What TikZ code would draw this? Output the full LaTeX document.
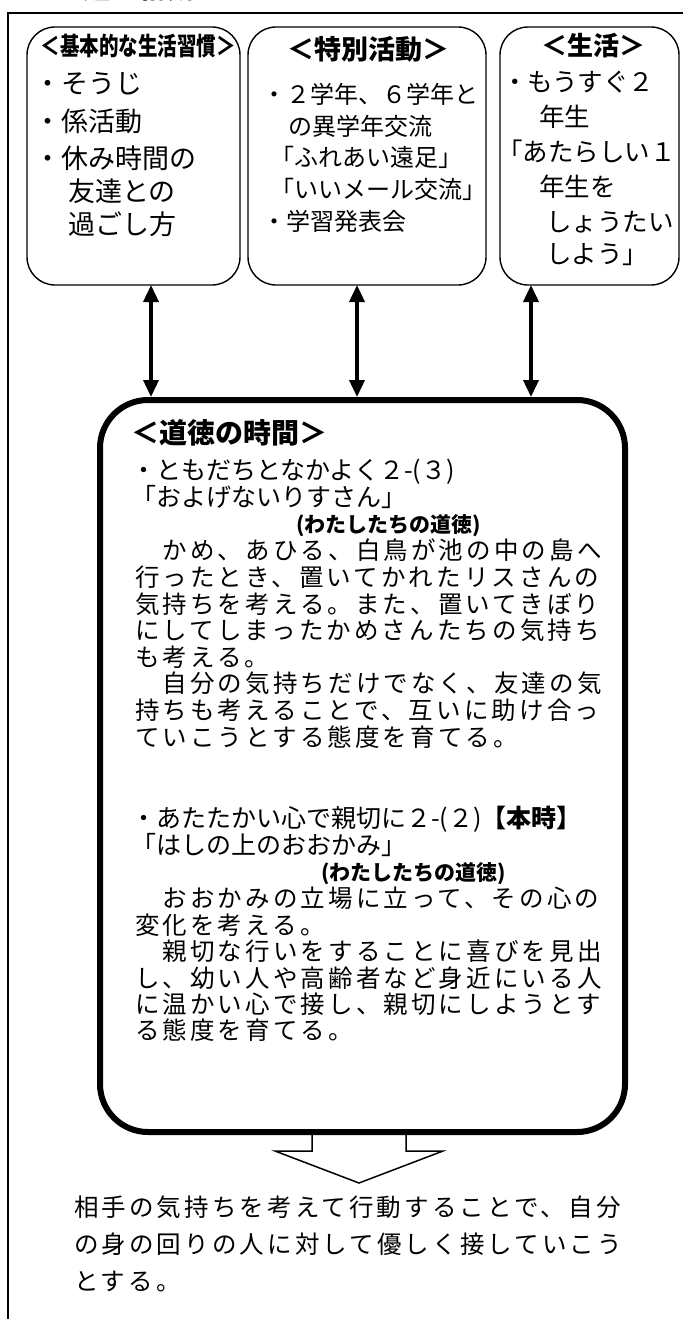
\documentclass[tikz,border=0pt]{standalone}
\usepackage{fontspec}
\usepackage{graphicx}
\setmainfont{Noto Sans CJK JP}
\newfontfamily\gridfont[LetterSpace=12.8]{Noto Sans CJK JP}
\usetikzlibrary{arrows.meta,calc}
\tikzset{
  every node/.style={inner sep=0pt, outer sep=0pt},
  ln/.style={anchor=west, text height=0.88em, text depth=0.12em},
  sbox/.style={draw, line width=1.4pt, rounded corners=28pt, rectangle},
  mainbox/.style={draw, line width=6pt, rounded corners=48pt, rectangle},
  dbl/.style={line width=3.6pt, {Triangle[width=15pt,length=17pt]}-{Triangle[width=15pt,length=17pt]}},
  hollow/.style={line width=1.5pt, line join=miter},
  frame/.style={line width=2pt},
  b1t/.style={ln, font=\fontsize{27}{30}\selectfont},
  b2t/.style={ln, font=\fontsize{24}{28}\selectfont},
  b3t/.style={ln, font=\fontsize{25.5}{28}\selectfont},
  mhd/.style={ln, font=\fontsize{25}{28}\selectfont},
  msrc/.style={ln, font=\bfseries\fontsize{21}{24}\selectfont},
  para/.style={ln, font=\gridfont\fontsize{24.5}{28}\selectfont},
  boxhead/.style={anchor=center, text height=0.88em, text depth=0.12em, font=\bfseries\fontsize{27}{30}\selectfont},
}
\begin{document}
\begin{tikzpicture}[x=1pt, y=-1pt]
\useasboundingbox (0,0) rectangle (683,1319);
% title (only its lower edge shows)
\node[ln, font=\bfseries\fontsize{28}{30}\selectfont] (title) at (55,-5) {主題の構成};
% outer frame
\draw[frame] (8,1319) -- (8,13) -- (683,13);

% top boxes
\node[sbox, minimum width=213pt, minimum height=258pt] (b1) at (133.5,156) {};
\node[sbox, minimum width=238pt, minimum height=258pt] (b2) at (367,156) {};
\node[sbox, minimum width=179pt, minimum height=258pt] (b3) at (589.5,156) {};

% box 1
\node[boxhead, font=\bfseries\fontsize{25}{28}\selectfont] (h1) at (138,52) {\scalebox{0.78}[1]{＜基本的な生活習慣＞}};
\node[b1t] (i11) at (34,90) {・そうじ};
\node[b1t] (i12) at (34,128) {・係活動};
\node[b1t] (i13) at (34,165) {・休み時間の};
\node[b1t] (i14) at (68,198) {友達との};
\node[b1t] (i15) at (68,231) {過ごし方};

% box 2
\node[boxhead] (h2) at (368,56) {＜特別活動＞};
\node[b2t] (i21) at (262,100) {・２学年、６学年と};
\node[b2t] (i22) at (288,132) {の異学年交流};
\node[b2t] (i23) at (270,163) {「ふれあい遠足」};
\node[b2t] (i24) at (270,195) {「いいメール交流」};
\node[b2t] (i25) at (262,227) {・学習発表会};

% box 3
\node[boxhead, font=\bfseries\fontsize{26}{28}\selectfont] (h3) at (593,52) {＜生活＞};
\node[b3t] (i31) at (502,88) {・もうすぐ２};
\node[b3t] (i32) at (539,123) {年生};
\node[b3t] (i33) at (497,158) {「あたらしい１};
\node[b3t] (i34) at (539,193) {年生を};
\node[b3t] (i35) at (546,228) {しょうたい};
\node[b3t] (i36) at (546,260) {しよう」};

% main box
\node[mainbox, minimum width=525pt, minimum height=732pt] (main) at (362.5,766) {};

% double arrows
\coordinate (ax1) at (151,0);
\coordinate (ax2) at (357,0);
\coordinate (ax3) at (531,0);
\draw[dbl, shorten >=3pt] (b1.south -| ax1) -- (main.north -| ax1);
\draw[dbl, shorten >=3pt] (b2.south -| ax2) -- (main.north -| ax2);
\draw[dbl, shorten >=3pt] (b3.south -| ax3) -- (main.north -| ax3);

% main box text
\node[ln, font=\bfseries\fontsize{28}{30}\selectfont] (mh) at (131,440) {＜道徳の時間＞};
\node[mhd] (m1) at (131,476) {・ともだちとなかよく２-(３)};
\node[mhd] (m2) at (131,503) {「およげないりすさん」};
\node[msrc] (m3) at (296,529) {(わたしたちの道徳)};
\node[para] (p1) at (135,556) {　かめ、あひる、白鳥が池の中の島へ};
\node[para] (p2) at (135,582.6) {行ったとき、置いてかれたリスさんの};
\node[para] (p3) at (135,609.2) {気持ちを考える。また、置いてきぼり};
\node[para] (p4) at (135,635.8) {にしてしまったかめさんたちの気持ち};
\node[para] (p5) at (135,662.4) {も考える。};
\node[para] (p6) at (135,689) {　自分の気持ちだけでなく、友達の気};
\node[para] (p7) at (135,715.6) {持ちも考えることで、互いに助け合っ};
\node[para] (p8) at (135,742.2) {ていこうとする態度を育てる。};

\node[mhd] (m4) at (131,824) {・あたたかい心で親切に２-(２)\textbf{【本時】}};
\node[mhd] (m5) at (131,851) {「はしの上のおおかみ」};
\node[msrc] (m6) at (321,877) {(わたしたちの道徳)};
\node[para] (q1) at (135,904) {　おおかみの立場に立って、その心の};
\node[para] (q2) at (135,930.4) {変化を考える。};
\node[para] (q3) at (135,956.8) {　親切な行いをすることに喜びを見出};
\node[para] (q4) at (135,983.2) {し、幼い人や高齢者など身近にいる人};
\node[para] (q5) at (135,1009.6) {に温かい心で接し、親切にしようとす};
\node[para] (q6) at (135,1036) {る態度を育てる。};

% hollow arrow
\coordinate (ha) at ($(main.south)+(-3.5,0)$);
\draw[hollow] ($(ha)+(-47,-3)$) -- ($(ha)+(-47,19)$) -- ($(ha)+(-84,19)$) -- ($(ha)+(0,51)$)
  -- ($(ha)+(84,19)$) -- ($(ha)+(47,19)$) -- ($(ha)+(47,-3)$);

% conclusion
\node[para] (c1) at (74,1213) {相手の気持ちを考えて行動することで、自分};
\node[para] (c2) at (74,1250) {の身の回りの人に対して優しく接していこう};
\node[para] (c3) at (74,1287) {とする。};
\end{tikzpicture}
\end{document}
